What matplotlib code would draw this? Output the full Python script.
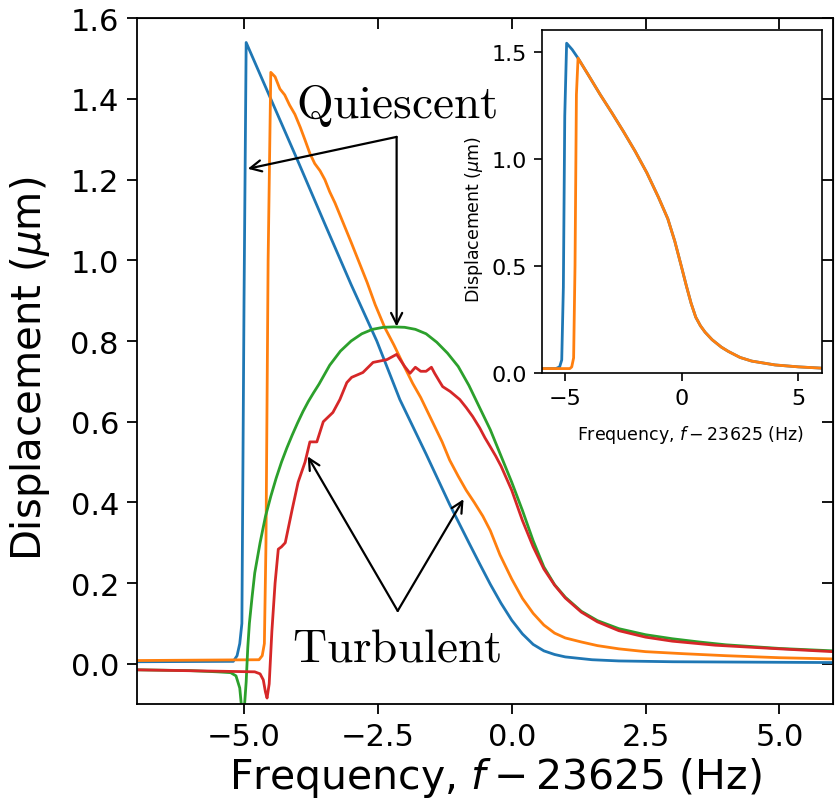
import matplotlib
matplotlib.use("Agg")
import matplotlib.pyplot as plt

# ---------------- data (main panel) ----------------
blue_x = [-7, -5.2, -5.13, -5.08, -5.04, -5.0, -4.96, -4.5, -4.0, -3.49, -3.0, -2.52, -2.09, -1.6,
          -1.16, -0.8, -0.6, -0.4, -0.2, 0.0, 0.2, 0.4, 0.6, 0.8, 1.0, 1.5, 2.0, 3.0, 4.5, 6.0]
blue_y = [0.005, 0.006, 0.02, 0.05, 0.1, 0.9, 1.54, 1.40, 1.248, 1.09, 0.94, 0.80, 0.655, 0.52,
          0.395, 0.30, 0.248, 0.197, 0.15, 0.108, 0.074, 0.048, 0.032, 0.023, 0.017, 0.01, 0.007,
          0.005, 0.004, 0.003]

orange_x = [-7, -4.72, -4.66, -4.62, -4.59, -4.55, -4.5, -4.42, -4.33, -4.24, -4.15, -4.05, -3.95, -3.86,
            -3.77, -3.68, -3.58, -3.49, -3.4, -3.3, -3.17, -3.0, -2.85, -2.7, -2.55, -2.37, -2.2, -2.0,
            -1.85, -1.7, -1.5, -1.3, -1.16, -1.0, -0.85, -0.7, -0.54, -0.4, -0.22, 0.0, 0.2, 0.4,
            0.6, 0.8, 1.0, 1.3, 1.6, 2.0, 2.5, 3.2, 4.0, 5.0, 6.0]
orange_y = [0.008, 0.01, 0.02, 0.05, 0.3, 1.0, 1.466, 1.455, 1.425, 1.41, 1.385, 1.362, 1.33, 1.298,
            1.265, 1.24, 1.222, 1.2, 1.17, 1.142, 1.10, 1.045, 0.995, 0.945, 0.89, 0.833, 0.79, 0.735,
            0.695, 0.66, 0.605, 0.55, 0.505, 0.465, 0.43, 0.40, 0.366, 0.33, 0.27, 0.21, 0.162, 0.125,
            0.096, 0.076, 0.064, 0.054, 0.045, 0.037, 0.03, 0.025, 0.02, 0.015, 0.012]

green_x = [-7, -6, -5.5, -5.25, -5.15, -5.08, -5.03, -5.0, -4.96, -4.93, -4.9, -4.85, -4.8, -4.7,
           -4.6, -4.5, -4.4, -4.3, -4.2, -4.1, -4.0, -3.9, -3.8, -3.7, -3.6, -3.4, -3.2, -3.0, -2.8,
           -2.6, -2.4, -2.2, -2.0, -1.8, -1.6, -1.4, -1.2, -1.0, -0.8, -0.6, -0.4, -0.2, 0.0, 0.2,
           0.4, 0.6, 0.8, 1.0, 1.3, 1.6, 2.0, 2.5, 3.0, 3.5, 4.0, 5.0, 6.0]
green_y = [-0.015, -0.017, -0.02, -0.022, -0.03, -0.06, -0.13, -0.12, -0.045, 0.04, 0.1, 0.165, 0.225,
           0.3, 0.365, 0.415, 0.46, 0.5, 0.535, 0.567, 0.597, 0.625, 0.65, 0.672, 0.693, 0.74, 0.775,
           0.8, 0.818, 0.829, 0.834, 0.835, 0.834, 0.829, 0.818, 0.797, 0.77, 0.737, 0.69, 0.635, 0.58,
           0.515, 0.45, 0.38, 0.305, 0.24, 0.196, 0.165, 0.13, 0.107, 0.087, 0.072, 0.062, 0.054, 0.047,
           0.038, 0.032]

red_x = [-7, -4.8, -4.7, -4.64, -4.6, -4.57, -4.53, -4.48, -4.42, -4.36, -4.3, -4.23, -4.1, -3.99,
         -3.86, -3.77, -3.64, -3.52, -3.34, -3.21, -3.08, -2.99, -2.78, -2.59, -2.33, -2.15, -2.0,
         -1.9, -1.8, -1.7, -1.6, -1.5, -1.44, -1.35, -1.29, -1.15, -0.97, -0.85, -0.73, -0.6, -0.5,
         -0.41, -0.3, -0.2, 0.0, 0.2, 0.4, 0.6, 0.8, 1.0, 1.3, 1.6, 2.0, 2.5, 3.0, 3.8, 5.0, 6.0]
red_y = [-0.015, -0.02, -0.025, -0.04, -0.07, -0.085, -0.05, 0.08, 0.2, 0.284, 0.29, 0.30, 0.383, 0.45,
         0.50, 0.55, 0.55, 0.60, 0.623, 0.655, 0.697, 0.71, 0.722, 0.747, 0.754, 0.767, 0.737,
         0.72, 0.735, 0.725, 0.725, 0.735, 0.72, 0.70, 0.687, 0.675, 0.655, 0.635, 0.613, 0.585, 0.56,
         0.54, 0.515, 0.49, 0.43, 0.355, 0.29, 0.235, 0.195, 0.163, 0.128, 0.104, 0.082, 0.066, 0.056,
         0.046, 0.037, 0.03]

# ---------------- data (inset) ----------------
inset_blue_x = [-6, -5.4, -5.24, -5.15, -5.08, -5.02, -4.94, -4.7, -4.45]
inset_blue_y = [0.02, 0.02, 0.028, 0.06, 0.4, 1.2, 1.54, 1.51, 1.47]
inset_orange_x = [-6, -4.8, -4.72, -4.64, -4.58, -4.52, -4.45]
inset_orange_y = [0.02, 0.02, 0.028, 0.07, 0.5, 1.3, 1.47]
inset_tail_x = [-4.45, -4.0, -3.5, -3.0, -2.5, -2.0, -1.5, -1.0, -0.6, -0.3, 0.0, 0.2, 0.4, 0.6, 0.8,
                1.0, 1.3, 1.7, 2.0, 2.5, 3.0, 4.0, 5.0, 6.0]
inset_tail_y = [1.47, 1.39, 1.30, 1.215, 1.127, 1.035, 0.935, 0.82, 0.72, 0.615, 0.49, 0.405, 0.325,
                0.26, 0.22, 0.19, 0.155, 0.12, 0.1, 0.072, 0.055, 0.037, 0.028, 0.022]

main_xticks = [-5.0, -2.5, 0.0, 2.5, 5.0]
main_yticks = [0.0, 0.2, 0.4, 0.6, 0.8, 1.0, 1.2, 1.4, 1.6]
inset_xticks = [-5, 0, 5]
inset_yticks = [0.0, 0.5, 1.0, 1.5]

C_BLUE, C_ORANGE, C_GREEN, C_RED = "#1f77b4", "#ff7f0e", "#2ca02c", "#d62728"

fig = plt.figure(figsize=(8.35, 8.04), dpi=100)
ax = fig.add_axes([0.164, 0.123, 0.8336, 0.853])
lw = 2.0
ax.plot(blue_x, blue_y, color=C_BLUE, lw=lw)
ax.plot(orange_x, orange_y, color=C_ORANGE, lw=lw)
ax.plot(green_x, green_y, color=C_GREEN, lw=lw)
ax.plot(red_x, red_y, color=C_RED, lw=lw)
ax.set_xlim(-7, 6)
ax.set_ylim(-0.1, 1.6)
ax.set_xticks(main_xticks)
ax.set_yticks(main_yticks)
ax.set_xticklabels([f"{v:.1f}".replace("-", "\u2212") for v in main_xticks])
ax.set_yticklabels([f"{v:.1f}" for v in main_yticks])
ax.tick_params(direction="out", length=7, width=1.3, labelsize=22, pad=6)
for s in ax.spines.values():
    s.set_linewidth(1.3)
secx = ax.secondary_xaxis("top")
secx.set_xticks(main_xticks)
secx.tick_params(direction="in", length=8, width=1.3, labeltop=False)
secy = ax.secondary_yaxis("right")
secy.set_yticks(main_yticks)
secy.tick_params(direction="in", length=8, width=1.3, labelright=False)
ax.set_xlabel(r"Frequency, $f - 23625$ (Hz)", fontsize=29.5)
ax.xaxis.set_label_coords(0.515, -0.074)
ax.set_ylabel(r"Displacement ($\mu$m)", fontsize=29)
ax.yaxis.set_label_coords(-0.122, 0.49)

# annotations
ax.text(-2.15, 1.355, r"$\mathrm{Quiescent}$", math_fontfamily="cm", fontsize=34,
        ha="center", va="baseline", zorder=5)
ax.text(-2.15, 0.007, r"$\mathrm{Turbulent}$", math_fontfamily="cm", fontsize=34,
        ha="center", va="baseline", zorder=5)
arrow_kw = dict(arrowstyle="->", lw=1.6, color="black", shrinkA=0, shrinkB=0, mutation_scale=20)
ax.annotate("", xy=(-4.93, 1.227), xytext=(-2.15, 1.306), arrowprops=arrow_kw, zorder=6)
ax.annotate("", xy=(-2.15, 0.836), xytext=(-2.15, 1.306), arrowprops=arrow_kw, zorder=6)
ax.annotate("", xy=(-3.81, 0.514), xytext=(-2.13, 0.131), arrowprops=arrow_kw, zorder=6)
ax.annotate("", xy=(-0.90, 0.408), xytext=(-2.13, 0.131), arrowprops=arrow_kw, zorder=6)

# inset
axi = fig.add_axes([0.649, 0.535, 0.335, 0.426])
axi.plot(inset_blue_x + inset_tail_x, inset_blue_y + inset_tail_y, color=C_BLUE, lw=lw)
axi.plot(inset_orange_x + inset_tail_x, inset_orange_y + inset_tail_y, color=C_ORANGE, lw=lw)
axi.set_xlim(-6, 6)
axi.set_ylim(0, 1.6)
axi.set_xticks(inset_xticks)
axi.set_yticks(inset_yticks)
axi.set_xticklabels([str(v).replace("-", "\u2212") for v in inset_xticks])
axi.set_yticklabels([f"{v:.1f}" for v in inset_yticks])
axi.tick_params(direction="out", length=6, width=1.2, labelsize=16, pad=5)
for s in axi.spines.values():
    s.set_linewidth(1.2)
axi.set_xlabel(r"Frequency, $f - 23625$ (Hz)", fontsize=12.5)
axi.set_ylabel(r"Displacement ($\mu$m)", fontsize=12.5)
axi.yaxis.set_label_coords(-0.205, 0.45)
axi.xaxis.set_label_coords(0.53, -0.145)

fig.savefig("out.png", dpi=100)
